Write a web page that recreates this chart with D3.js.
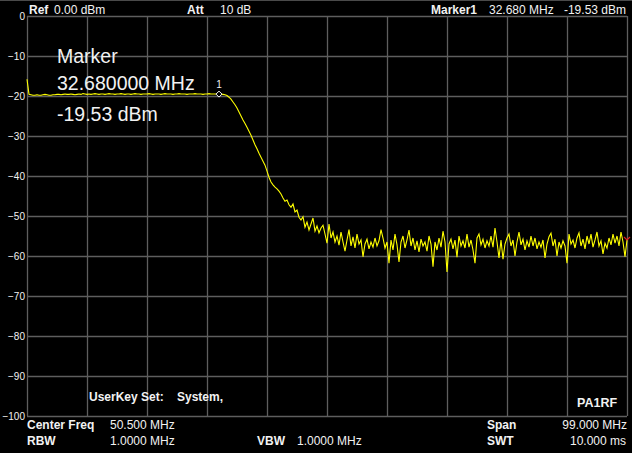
<!DOCTYPE html>
<html>
<head>
<meta charset="utf-8">
<script src="https://cdn.jsdelivr.net/npm/d3@7"></script>
<style>
  html, body { margin: 0; padding: 0; background: #000; }
  svg { display: block; }
  text { font-family: "Liberation Sans", Arial, sans-serif; fill: #f2f2f2; }
</style>
</head>
<body>
<svg id="chart" width="632" height="453"></svg>
<script>
// ---------- data ----------
const startFreqMHz = 1.0;     // Center 50.5 MHz, Span 99 MHz
const stopFreqMHz = 100.0;
const yTicks = [0, -10, -20, -30, -40, -50, -60, -70, -80, -90, -100];
const xDivisions = [1, 10.9, 20.8, 30.7, 40.6, 50.5, 60.4, 70.3, 80.2, 90.1, 100];

// trace levels in dBm, one every 0.33 MHz from 1 MHz to 100 MHz (301 points)
const passband = [
  -15.8, -19.6, -19.7, -19.8, -19.8, -19.7, -19.8, -19.8, -19.7, -19.6,
  -19.7, -19.8, -19.8, -19.7, -19.7, -19.6, -19.6, -19.7, -19.6, -19.5,
  -19.6, -19.6, -19.5, -19.6, -19.7, -19.6, -19.5, -19.6, -19.4, -19.5,
  -19.6, -19.5, -19.6, -19.5, -19.4, -19.5, -19.6, -19.5, -19.5, -19.6,
  -19.5, -19.4, -19.5, -19.5, -19.6, -19.5, -19.5, -19.4, -19.5, -19.6,
  -19.5, -19.5, -19.6, -19.5, -19.4, -19.5, -19.5, -19.6, -19.5, -19.5,
  -19.5, -19.4, -19.5, -19.6, -19.5, -19.5, -19.5, -19.6, -19.5, -19.4,
  -19.5, -19.5, -19.5, -19.6, -19.5, -19.5, -19.4, -19.5, -19.5, -19.5,
  -19.6, -19.5, -19.5, -19.5, -19.4, -19.5, -19.5, -19.5, -19.6, -19.5,
  -19.5, -19.4, -19.5, -19.5, -19.5, -19.5, -19.53
];
const rolloff = [
  -19.5, -19.6, -19.7, -19.9, -20.3, -20.8, -21.5, -22.2, -23.0, -24.0,
  -25.0, -26.0, -26.9, -27.8, -28.8, -29.8, -31.0, -32.2, -33.2, -34.3,
  -35.3, -36.3, -37.3, -38.8, -40.3, -41.5, -42.2, -42.8, -43.2, -43.8,
  -44.5, -45.5, -46.3, -46.0, -47.2, -47.8, -47.0, -49.0, -48.5, -50.3,
  -51.0, -50.2, -52.8, -51.5, -53.5, -52.0, -50.5, -53.8, -52.5, -54.2,
  -53.0, -52.3, -54.5
];
const noiseFloor = [
  -56.8, -52.0, -55.5, -54.0, -56.5, -55.0, -57.3, -54.0, -56.5, -58.8,
  -56.0, -53.4, -57.5, -55.2, -58.0, -54.5, -57.0, -56.0, -60.2, -57.0,
  -55.8, -58.2, -56.5, -57.8, -55.5, -57.5, -56.2, -53.4, -55.5, -58.0,
  -56.5, -61.8, -56.0, -58.5, -54.5, -57.2, -61.5, -56.5, -55.0, -58.0,
  -56.0, -53.5, -57.5, -55.5, -58.5, -56.2, -59.0, -55.8, -57.5, -56.5,
  -58.8, -55.0, -57.0, -62.7, -56.5, -58.5, -55.5, -57.8, -53.8, -56.5,
  -64.0, -57.0, -55.8, -58.2, -56.0, -60.3, -55.0, -57.5, -56.2, -58.0,
  -54.5, -57.8, -56.0, -58.5, -61.8, -55.5, -54.5, -57.2, -55.8, -58.0,
  -56.2, -57.5, -55.0, -57.8, -53.0, -56.5, -60.5, -56.0, -60.8, -57.0,
  -55.5, -54.5, -57.5, -56.0, -60.0, -56.5, -54.0, -57.2, -55.8, -58.5,
  -56.2, -57.8, -55.0, -57.5, -55.5, -58.2, -56.5, -57.8, -56.0, -60.5,
  -57.0, -55.2, -54.3, -57.5, -55.8, -60.0, -56.5, -58.0, -56.2, -57.5,
  -61.8, -54.5, -57.0, -56.0, -58.0, -55.5, -54.2, -57.5, -55.8, -58.2,
  -55.0, -57.0, -54.5, -57.8, -56.0, -54.0, -57.5, -56.2, -59.5, -56.8,
  -58.0, -55.5, -57.2, -54.5, -56.8, -55.0, -57.5, -54.0, -56.5, -60.2,
  -56.0
];
const traceLevels = passband.concat(rolloff, noiseFloor);

const marker = { freq: 32.68, level: -19.53, label: "1" };
const markerText = ["Marker", "32.680000 MHz", "-19.53 dBm"];
const headerLabels = [
  { t: "Ref", x: 29, bold: true }, { t: "0.00 dBm", x: 54 },
  { t: "Att", x: 187, bold: true }, { t: "10 dB", x: 220 },
  { t: "Marker1", x: 431, bold: true }, { t: "32.680 MHz", x: 489 },
  { t: "-19.53 dBm", x: 626, end: true }
];
const footerLabels = [
  { t: "Center Freq", x: 27, row: 0, bold: true }, { t: "50.500 MHz", x: 110, row: 0 },
  { t: "Span", x: 487, row: 0, bold: true }, { t: "99.000 MHz", x: 627, row: 0, end: true },
  { t: "RBW", x: 27, row: 1, bold: true }, { t: "1.0000 MHz", x: 110, row: 1 },
  { t: "VBW", x: 257, row: 1, bold: true }, { t: "1.0000 MHz", x: 297, row: 1 },
  { t: "SWT", x: 487, row: 1, bold: true }, { t: "10.000 ms", x: 626, row: 1, end: true }
];

// ---------- drawing ----------
const svg = d3.select("#chart");
const W = 632, H = 453;
const plot = { left: 27, right: 627, top: 16, bottom: 416 };
const gridColor = "#5e5e5e";

svg.append("rect").attr("width", W).attr("height", H).attr("fill", "#000");

const x = d3.scaleLinear().domain([startFreqMHz, stopFreqMHz]).range([plot.left, plot.right]);
const y = d3.scaleLinear().domain([-100, 0]).range([plot.bottom, plot.top]);

// top thin line
svg.append("line").attr("x1", 0).attr("x2", W).attr("y1", 0.5).attr("y2", 0.5)
  .attr("stroke", "#4a4a4a").attr("stroke-width", 1);

// horizontal grid + y labels
const yAxis = d3.axisLeft(y).tickValues(yTicks).tickSize(-(plot.right - plot.left)).tickPadding(2)
  .tickFormat(d3.format("d"));
const gy = svg.append("g").attr("transform", `translate(${plot.left},0)`).call(yAxis);
gy.select(".domain").remove();
gy.selectAll(".tick line").attr("stroke", gridColor).attr("stroke-width", 1.3);
gy.selectAll(".tick text").attr("font-size", 10).attr("fill", "#e8e8e8")
  .style("font-family", "'Liberation Sans', Arial, sans-serif");

// vertical grid
const xAxis = d3.axisBottom(x).tickValues(xDivisions).tickSize(-(plot.bottom - plot.top)).tickFormat("");
const gx = svg.append("g").attr("transform", `translate(0,${plot.bottom})`).call(xAxis);
gx.select(".domain").remove();
gx.selectAll(".tick line").attr("stroke", gridColor).attr("stroke-width", 1.3);

// trace
const step = (stopFreqMHz - startFreqMHz) / (traceLevels.length - 1);
const line = d3.line().x((d, i) => x(startFreqMHz + i * step)).y(d => y(d));
svg.append("path").datum(traceLevels).attr("d", line)
  .attr("fill", "none").attr("stroke", "#ffff00").attr("stroke-width", 1.1)
  .attr("stroke-linejoin", "miter");

// end-of-trace red indicator
const endX = x(stopFreqMHz), endY = y(traceLevels[traceLevels.length - 1]);
svg.append("path")
  .attr("d", `M${endX - 3},${endY - 3} L${endX},${endY} L${endX + 3},${endY - 3}`)
  .attr("stroke", "#e02020").attr("fill", "none").attr("stroke-width", 1.2);

// marker
const mx = x(marker.freq), my = y(marker.level);
svg.append("path")
  .attr("d", `M${mx},${my - 3} L${mx + 3},${my} L${mx},${my + 3} L${mx - 3},${my} Z`)
  .attr("fill", "#000").attr("stroke", "#ffffff").attr("stroke-width", 1);
svg.append("text").attr("x", mx).attr("y", my - 6).attr("text-anchor", "middle")
  .attr("font-size", 10).text(marker.label);

// marker readout
const mtBase = [63, 90, 121];
markerText.forEach((t, i) => {
  svg.append("text").attr("x", 57).attr("y", mtBase[i]).attr("font-size", 19.5)
    .attr("fill", "#ffffff").text(t);
});

// header
headerLabels.forEach(l => {
  svg.append("text").attr("x", l.x).attr("y", 14).attr("font-size", 12)
    .attr("font-weight", l.bold ? "bold" : "normal")
    .attr("text-anchor", l.end ? "end" : "start").text(l.t);
});

// footer
footerLabels.forEach(l => {
  svg.append("text").attr("x", l.x).attr("y", l.row === 0 ? 428.5 : 444.5).attr("font-size", 12)
    .attr("font-weight", l.bold ? "bold" : "normal")
    .attr("text-anchor", l.end ? "end" : "start").text(l.t);
});

// in-plot notes
svg.append("text").attr("x", 89).attr("y", 401).attr("font-size", 12).attr("font-weight", "bold")
  .text("UserKey Set:");
svg.append("text").attr("x", 177).attr("y", 401).attr("font-size", 12).attr("font-weight", "bold")
  .text("System,");
svg.append("text").attr("x", 577).attr("y", 407).attr("font-size", 12.5).attr("font-weight", "bold")
  .text("PA1RF");
</script>
</body>
</html>
